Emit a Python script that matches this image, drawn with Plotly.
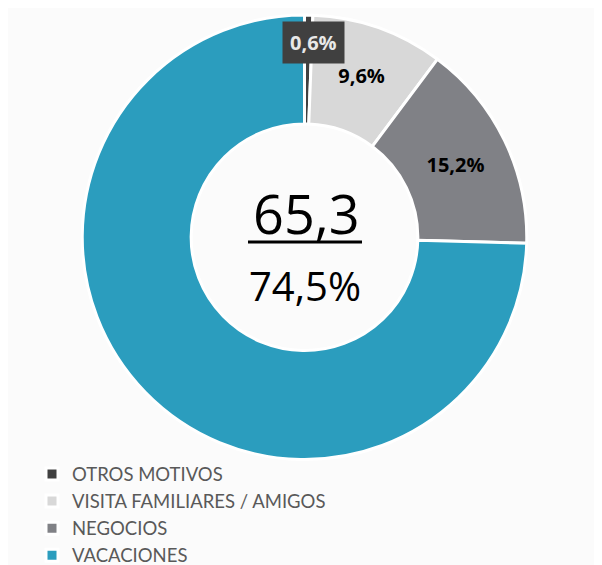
import plotly.graph_objects as go

categories = ["OTROS MOTIVOS", "VISITA FAMILIARES / AMIGOS", "NEGOCIOS", "VACACIONES"]
values = [0.6, 9.6, 15.2, 74.5]
colors = ["#404040", "#D8D8D8", "#808186", "#2B9DBE"]
slice_labels = ["", "9,6%", "15,2%", ""]
small_label = "0,6%"
center_value = "65,3"
center_pct = "74,5%"

# page body has an 8px default margin; work in reference pixels and offset.
# Figure is a bit taller than the window so the legend never pushes margins.
OFF = 8
W, H = 602 - OFF, 620


def px(x):
    return (x - OFF) / W


def py(y):
    return 1 - (y - OFF) / H


fig = go.Figure()
fig.add_trace(go.Pie(
    labels=categories,
    values=values,
    text=slice_labels,
    texttemplate="<b>%{text}</b>",
    textinfo="text",
    textposition="inside",
    insidetextorientation="horizontal",
    textfont=dict(family="Open Sans", size=20, color="#000000"),
    marker=dict(colors=colors, line=dict(color="#FFFFFF", width=3)),
    hole=0.51,
    sort=False,
    direction="clockwise",
    rotation=0,
    domain=dict(x=[px(82), px(527)], y=[py(459.5), py(15)]),
    hoverinfo="label+percent",
))

fig.add_annotation(
    x=px(313.5), y=py(43), xref="paper", yref="paper",
    xanchor="center", yanchor="middle",
    text="<b>" + small_label + "</b>", showarrow=False,
    font=dict(family="Open Sans", size=20, color="#E8E8E8"),
    bgcolor="#404040", borderpad=7,
)
fig.add_annotation(
    x=px(306), y=py(213), xref="paper", yref="paper",
    xanchor="center", yanchor="middle",
    text=center_value, showarrow=False,
    font=dict(family="Open Sans", size=54, color="#000000"),
)
fig.add_annotation(
    x=px(305), y=py(285), xref="paper", yref="paper",
    xanchor="center", yanchor="middle",
    text=center_pct, showarrow=False,
    font=dict(family="Open Sans", size=40, color="#000000"),
)
fig.add_shape(
    type="line", xref="paper", yref="paper",
    x0=px(248), x1=px(362), y0=py(242), y1=py(242),
    line=dict(color="#000000", width=3),
)

fig.update_layout(
    width=W, height=H,
    margin=dict(l=0, r=0, t=0, b=0),
    paper_bgcolor="#FBFBFB",
    plot_bgcolor="#FBFBFB",
    showlegend=True,
    legend=dict(
        x=px(32), y=py(455.5), xanchor="left", yanchor="top",
        font=dict(family="Lato", size=18.5, color="#595959"),
        bgcolor="rgba(0,0,0,0)",
        traceorder="normal",
    ),
)

fig.write_html("out.html")
